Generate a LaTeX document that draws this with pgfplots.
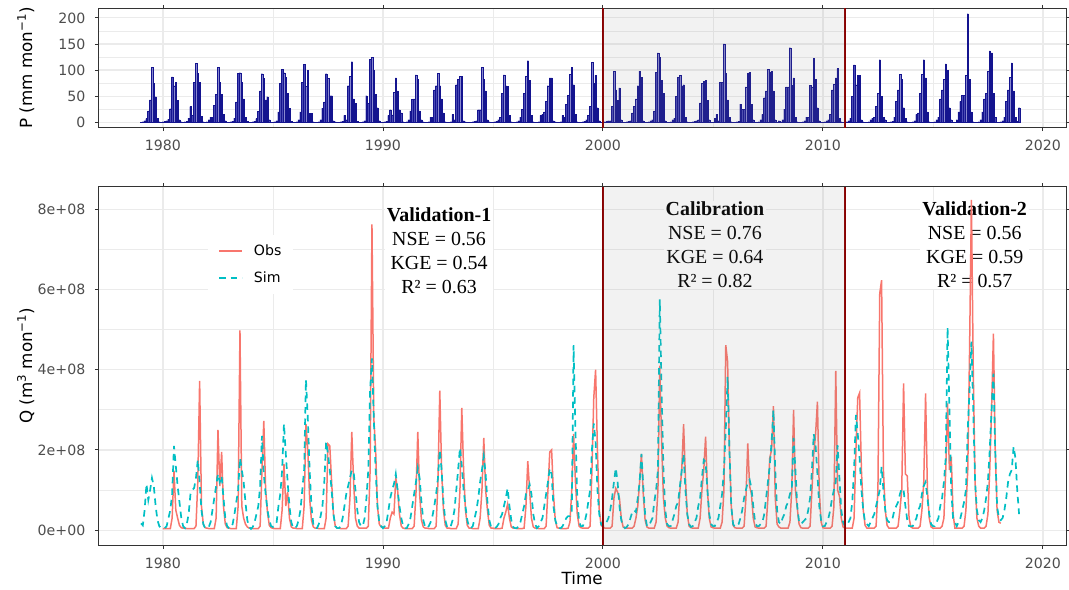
\documentclass[border=0pt]{standalone}
\usepackage{pgfplots}
\pgfplotsset{compat=1.18}
\usepackage{pgfplotstable}
\usepackage{fontspec}
\setmainfont{DejaVu Sans}
\newfontfamily\serif{Liberation Serif}
\definecolor{obs}{HTML}{F8766D}
\definecolor{sim}{HTML}{00BFC4}
\definecolor{pbar}{HTML}{14148F}
\definecolor{pfill}{HTML}{4A4AB5}
\definecolor{vl}{HTML}{8B0000}
\definecolor{gridc}{HTML}{EBEBEB}
\definecolor{tickc}{HTML}{4D4D4D}
\definecolor{frame}{HTML}{333333}

% monthly precipitation (mm), Jan 1979 - Dec 2018, one year per line
\pgfplotstableread[row sep=\\]{
v\\
0.5\\1\\3\\7\\22\\43\\105\\75\\49\\8\\1\\0.5\\
1\\2\\3\\6\\26\\87\\70\\76\\42\\5\\1\\0.5\\
1\\2\\8\\30\\13\\77\\113\\94\\77\\12\\1\\0.5\\
1\\5\\10\\10\\32\\53\\105\\76\\53\\15\\3\\0.5\\
0.5\\1\\2\\8\\39\\94\\95\\76\\45\\10\\2\\0.5\\
0.5\\1\\2\\7\\21\\60\\93\\84\\43\\49\\5\\0.5\\
0.5\\1\\3\\20\\75\\102\\95\\86\\56\\27\\2\\0.5\\
0.5\\1\\5\\20\\76\\111\\69\\100\\17\\17\\1\\0.5\\
0.5\\1\\5\\27\\39\\93\\84\\51\\51\\3\\1\\0.5\\
0.5\\1\\2\\13\\5\\70\\88\\116\\45\\36\\2\\0.5\\
0.5\\1\\3\\51\\36\\121\\124\\100\\54\\28\\3\\0.5\\
0.5\\1\\2\\13\\24\\14\\57\\85\\60\\24\\18\\1\\
0.5\\1\\5\\22\\44\\45\\91\\82\\22\\5\\1\\0.5\\
0.5\\1\\10\\10\\62\\70\\94\\70\\45\\18\\1\\0.5\\
0.5\\1\\15\\5\\72\\82\\88\\88\\3\\1\\0.5\\0.5\\
0.5\\1\\2\\3\\24\\24\\105\\82\\60\\5\\1\\0.5\\
0.5\\1\\2\\5\\10\\56\\91\\70\\69\\13\\1\\0.5\\
0.5\\1\\3\\10\\25\\56\\88\\118\\80\\13\\1\\0.5\\
0.5\\1\\13\\15\\20\\40\\70\\85\\85\\3\\1\\0.5\\
0.5\\1\\13\\10\\35\\52\\92\\105\\72\\15\\1\\0.5\\
0.5\\1\\2\\5\\13\\30\\115\\75\\90\\28\\3\\0.5\\
0.5\\1\\2\\3\\3\\30\\98\\62\\42\\66\\5\\0.5\\
0.5\\1\\2\\3\\18\\30\\45\\70\\98\\86\\3\\0.5\\
0.5\\1\\3\\5\\22\\96\\133\\125\\80\\56\\3\\0.5\\
0.5\\1\\5\\8\\50\\86\\90\\70\\72\\10\\1\\0.5\\
0.5\\1\\2\\3\\5\\37\\75\\79\\80\\42\\5\\0.5\\
0.5\\8\\15\\3\\77\\77\\150\\94\\43\\10\\1\\0.5\\
0.5\\1\\2\\35\\25\\25\\68\\94\\96\\35\\5\\0.5\\
0.5\\1\\5\\15\\47\\60\\102\\96\\98\\60\\5\\0.5\\
3\\1\\5\\25\\68\\68\\143\\71\\85\\10\\1\\0.5\\
0.5\\1\\3\\10\\10\\71\\68\\122\\82\\28\\3\\0.5\\
0.5\\1\\3\\5\\15\\62\\73\\85\\103\\8\\1\\0.5\\
0.5\\1\\3\\8\\50\\110\\72\\90\\90\\5\\1\\0.5\\
0.5\\1\\5\\8\\10\\30\\55\\120\\50\\10\\5\\0.5\\
0.5\\1\\2\\10\\40\\62\\92\\82\\28\\8\\1\\0.5\\
0.5\\1\\3\\15\\18\\56\\92\\120\\85\\20\\1\\0.5\\
0.5\\1\\5\\10\\45\\62\\82\\112\\100\\28\\5\\0.5\\
0.5\\5\\20\\40\\52\\52\\90\\208\\82\\20\\1\\0.5\\
0.5\\1\\5\\20\\45\\56\\98\\137\\133\\56\\10\\0.5\\
0.5\\1\\3\\10\\40\\62\\86\\114\\60\\10\\2\\28\\
}\Pdata

% observed discharge (1e8 m3/month), Jan 1980 - Feb 2018
\pgfplotstableread[row sep=\\]{
v\\
0.04\\0.04\\0.04\\0.04\\0.04\\0.3\\1.48\\0.5\\0.3\\0.12\\0.06\\0.05\\
0.05\\0.04\\0.04\\0.04\\0.04\\0.04\\0.1\\1.2\\3.72\\0.6\\0.15\\0.06\\
0.05\\0.04\\0.04\\0.04\\0.04\\0.3\\2.5\\1.1\\1.95\\0.6\\0.15\\0.06\\
0.05\\0.04\\0.04\\0.04\\0.04\\0.6\\4.98\\0.6\\0.3\\0.15\\0.08\\0.05\\
0.05\\0.04\\0.04\\0.04\\0.04\\0.1\\1.5\\2.72\\1.0\\0.45\\0.12\\0.06\\
0.05\\0.04\\0.04\\0.04\\0.04\\0.5\\1.65\\0.6\\0.95\\0.3\\0.08\\0.05\\
0.05\\0.04\\0.04\\0.04\\0.04\\0.6\\2.65\\2.0\\0.8\\0.25\\0.08\\0.05\\
0.05\\0.04\\0.04\\0.04\\0.04\\0.3\\2.15\\2.1\\1.2\\0.4\\0.1\\0.05\\
0.05\\0.04\\0.04\\0.04\\0.04\\0.1\\0.8\\2.45\\1.2\\0.3\\0.1\\0.05\\
0.05\\0.05\\0.05\\0.05\\0.1\\1.5\\7.62\\2.8\\2.0\\0.6\\0.15\\0.08\\
0.08\\0.05\\0.05\\0.05\\0.3\\0.45\\0.4\\1.3\\1.0\\0.4\\0.1\\0.05\\
0.04\\0.04\\0.04\\0.04\\0.04\\0.1\\0.9\\2.45\\0.9\\0.25\\0.08\\0.05\\
0.05\\0.04\\0.04\\0.04\\0.04\\0.1\\1.2\\3.48\\1.5\\0.5\\0.12\\0.05\\
0.05\\0.04\\0.04\\0.04\\0.04\\0.15\\1.0\\3.05\\1.5\\0.5\\0.12\\0.05\\
0.05\\0.04\\0.04\\0.04\\0.04\\0.3\\1.0\\2.3\\1.0\\0.5\\0.12\\0.05\\
0.05\\0.04\\0.04\\0.04\\0.04\\0.05\\0.3\\0.45\\0.65\\0.3\\0.08\\0.05\\
0.05\\0.04\\0.04\\0.04\\0.04\\0.05\\0.6\\1.72\\1.0\\0.3\\0.08\\0.05\\
0.05\\0.04\\0.04\\0.04\\0.04\\0.1\\1.0\\1.95\\2.0\\0.9\\0.25\\0.06\\
0.05\\0.04\\0.04\\0.04\\0.04\\0.05\\0.2\\1.0\\2.4\\1.2\\0.4\\0.1\\
0.06\\0.05\\0.05\\0.05\\0.05\\0.1\\1.5\\3.3\\4.0\\2.0\\0.5\\0.12\\
0.08\\0.05\\0.05\\0.05\\0.05\\0.1\\0.8\\1.04\\0.95\\0.8\\0.3\\0.08\\
0.06\\0.05\\0.05\\0.05\\0.05\\0.1\\0.3\\0.6\\1.2\\1.9\\0.9\\0.25\\
0.08\\0.05\\0.05\\0.05\\0.05\\0.2\\1.0\\4.1\\2.2\\0.8\\0.3\\0.1\\
0.06\\0.05\\0.05\\0.05\\0.05\\0.2\\1.0\\1.5\\2.64\\1.3\\0.4\\0.1\\
0.06\\0.05\\0.05\\0.05\\0.05\\0.3\\1.0\\1.5\\2.33\\1.0\\0.3\\0.08\\
0.06\\0.05\\0.05\\0.05\\0.05\\0.2\\1.0\\4.61\\4.2\\2.0\\0.6\\0.12\\
0.06\\0.05\\0.05\\0.05\\0.05\\0.1\\0.8\\2.16\\1.1\\0.9\\0.3\\0.08\\
0.06\\0.05\\0.05\\0.05\\0.05\\0.1\\0.8\\1.8\\2.0\\3.09\\0.8\\0.15\\
0.08\\0.05\\0.05\\0.05\\0.05\\0.05\\0.2\\1.0\\3.0\\1.0\\0.55\\0.15\\
0.06\\0.05\\0.05\\0.05\\0.05\\0.1\\1.0\\1.9\\2.4\\3.2\\1.0\\0.2\\
0.06\\0.05\\0.05\\0.05\\0.05\\0.1\\0.6\\3.97\\1.0\\0.85\\0.3\\0.08\\
0.05\\0.05\\0.05\\0.05\\0.05\\0.3\\2.0\\3.3\\3.42\\1.5\\0.5\\0.12\\
0.05\\0.05\\0.05\\0.05\\0.05\\0.1\\1.0\\5.9\\6.23\\1.5\\0.5\\0.12\\
0.05\\0.05\\0.05\\0.05\\0.05\\0.1\\0.5\\1.0\\3.66\\1.4\\1.35\\0.3\\
0.08\\0.05\\0.05\\0.05\\0.05\\0.1\\0.5\\1.2\\3.41\\1.0\\0.3\\0.08\\
0.05\\0.05\\0.05\\0.05\\0.05\\0.1\\0.3\\1.5\\3.16\\1.5\\1.83\\0.4\\
0.05\\0.05\\0.05\\0.05\\0.05\\0.1\\0.5\\1.5\\4.5\\8.23\\4.0\\1.2\\
0.3\\0.1\\0.05\\0.05\\0.05\\0.1\\0.4\\1.5\\3.0\\4.9\\2.0\\0.5\\
0.2\\0.17\\
}\Obsdata

% simulated discharge (1e8 m3/month), Jan 1979 - Dec 2018
\pgfplotstableread[row sep=\\]{
v\\
0.17\\0.12\\0.5\\1.15\\0.75\\1.0\\1.3\\1.1\\0.6\\0.25\\0.1\\0.05\\
0.05\\0.05\\0.1\\0.3\\0.5\\0.9\\2.1\\1.6\\1.1\\0.7\\0.3\\0.1\\
0.05\\0.15\\0.4\\0.9\\1.0\\1.05\\1.3\\1.75\\1.2\\0.5\\0.15\\0.05\\
0.05\\0.08\\0.2\\0.5\\0.8\\1.1\\1.4\\1.2\\1.35\\0.8\\0.3\\0.1\\
0.05\\0.05\\0.15\\0.4\\0.7\\1.0\\1.8\\1.5\\1.2\\0.7\\0.25\\0.08\\
0.03\\0.08\\0.2\\0.4\\0.6\\1.1\\2.35\\1.4\\0.9\\0.5\\0.25\\0.1\\
0.08\\0.1\\0.2\\0.6\\0.9\\1.5\\2.65\\1.9\\1.2\\0.6\\0.2\\0.05\\
0.05\\0.1\\0.25\\0.5\\1.0\\1.5\\3.75\\2.8\\1.5\\0.6\\0.15\\0.05\\
0.05\\0.15\\0.35\\0.6\\1.2\\2.2\\1.9\\1.5\\1.0\\0.4\\0.1\\0.05\\
0.05\\0.1\\0.3\\0.6\\0.9\\1.1\\1.3\\1.5\\1.45\\1.0\\0.5\\0.2\\
0.1\\0.1\\0.3\\0.8\\1.5\\3.5\\4.28\\2.8\\1.5\\0.6\\0.2\\0.1\\
0.05\\0.1\\0.2\\0.5\\0.8\\1.0\\1.15\\1.4\\1.0\\0.6\\0.3\\0.1\\
0.05\\0.05\\0.15\\0.3\\0.6\\0.9\\1.2\\1.55\\1.3\\0.7\\0.25\\0.08\\
0.05\\0.1\\0.2\\0.35\\0.6\\0.9\\1.3\\2.0\\1.5\\0.7\\0.25\\0.08\\
0.05\\0.1\\0.25\\0.5\\1.0\\1.5\\2.05\\1.6\\1.0\\0.6\\0.25\\0.08\\
0.05\\0.1\\0.3\\0.5\\0.8\\1.2\\1.5\\1.85\\1.4\\0.7\\0.25\\0.08\\
0.05\\0.05\\0.08\\0.15\\0.3\\0.4\\0.6\\0.8\\1.04\\0.6\\0.25\\0.08\\
0.05\\0.05\\0.1\\0.2\\0.4\\0.6\\0.9\\1.0\\1.14\\0.9\\0.4\\0.15\\
0.05\\0.1\\0.2\\0.3\\0.6\\0.9\\1.2\\1.54\\1.4\\0.6\\0.25\\0.1\\
0.05\\0.05\\0.1\\0.2\\0.3\\0.35\\0.35\\0.4\\4.61\\2.5\\0.8\\0.2\\
0.1\\0.1\\0.2\\0.4\\0.7\\1.0\\2.0\\2.66\\2.2\\1.0\\0.4\\0.15\\
0.1\\0.1\\0.2\\0.3\\0.5\\0.8\\1.2\\1.55\\1.2\\0.6\\0.25\\0.1\\
0.05\\0.08\\0.15\\0.3\\0.45\\0.5\\0.45\\0.8\\1.2\\1.9\\1.1\\0.4\\
0.1\\0.1\\0.2\\0.3\\0.7\\1.0\\1.5\\5.75\\3.5\\1.5\\0.5\\0.15\\
0.1\\0.1\\0.25\\0.4\\0.6\\0.7\\1.1\\1.5\\1.9\\1.0\\0.4\\0.15\\
0.08\\0.1\\0.2\\0.3\\0.6\\0.8\\1.3\\1.75\\1.7\\1.0\\0.4\\0.15\\
0.1\\0.1\\0.2\\0.3\\0.6\\0.9\\1.5\\2.5\\3.82\\2.0\\0.6\\0.15\\
0.08\\0.1\\0.15\\0.3\\0.5\\0.8\\1.0\\1.2\\1.26\\1.05\\0.6\\0.2\\
0.1\\0.1\\0.15\\0.2\\0.4\\0.8\\1.2\\1.6\\2.2\\3.0\\1.5\\0.5\\
0.2\\0.15\\0.3\\0.4\\0.6\\0.7\\0.9\\1.0\\2.3\\1.5\\0.6\\0.2\\
0.15\\0.2\\0.25\\0.3\\0.5\\0.8\\1.5\\2.4\\2.1\\1.4\\0.6\\0.25\\
0.1\\0.1\\0.2\\0.3\\0.5\\0.8\\1.0\\1.2\\2.12\\1.3\\0.5\\0.2\\
0.1\\0.1\\0.2\\0.3\\0.7\\1.5\\2.87\\2.4\\1.8\\1.0\\0.5\\0.2\\
0.15\\0.1\\0.2\\0.3\\0.4\\0.6\\0.8\\1.0\\1.58\\1.0\\0.5\\0.25\\
0.2\\0.2\\0.3\\0.5\\0.6\\0.7\\0.9\\1.04\\1.0\\0.6\\0.25\\0.1\\
0.1\\0.1\\0.2\\0.3\\0.5\\0.6\\0.9\\1.1\\1.2\\0.8\\0.4\\0.15\\
0.1\\0.1\\0.2\\0.3\\0.6\\0.8\\1.2\\1.8\\5.05\\3.0\\1.0\\0.3\\
0.2\\0.1\\0.2\\0.3\\0.5\\0.7\\1.0\\2.5\\3.5\\4.7\\3.0\\1.2\\
0.5\\0.25\\0.2\\0.3\\0.5\\0.8\\1.2\\2.0\\3.0\\3.9\\2.0\\0.6\\
0.3\\0.25\\0.3\\0.5\\0.8\\1.2\\1.4\\1.5\\2.08\\1.8\\1.0\\0.4\\
}\Simdata

\pgfplotsset{
  ggstyle/.style={
    scale only axis, xmin=1977.06, xmax=2021.05,
    axis line style={frame, line width=0.9bp},
    tick align=outside, major tick length=3.5bp, minor tick length=0pt,
    tick style={frame, line width=0.9bp},
    xtick={1980,1990,2000,2010,2020},
    xticklabels={1980,1990,2000,2010,2020},
    minor xtick={1985,1995,2005,2015},
    grid=both,
    major grid style={gridc, line width=1.2bp},
    minor grid style={gridc, line width=0.6bp},
    ticklabel style={font=\fontsize{14.2}{17}\selectfont, text=tickc, inner sep=0pt},
    xticklabel style={anchor=north, yshift=-9bp},
    yticklabel style={anchor=east, xshift=-9.3bp},
    label style={font=\fontsize{16.8}{20}\selectfont},
    ylabel style={at={(axis description cs:-0.0685,0.5)}, anchor=base},
  }
}

\begin{document}
\begin{tikzpicture}
\path[use as bounding box] (0,0) rectangle (1069bp,590bp);

% ---------- top panel: precipitation ----------
\begin{axis}[ggstyle,
  at={(98.3bp,462.3bp)}, anchor=south west,
  width=967.7bp, height=119.4bp,
  ymin=-10.4, ymax=218.4,
  ytick={0,50,100,150,200}, yticklabels={0,50,100,150,200},
  minor ytick={25,75,125,175},
  ylabel={P (mm mon\textsuperscript{−1})},
]
\addplot[ybar, bar width=0.066, bar shift=0pt, fill=pfill, draw=pbar, line width=0.25bp]
  table[x expr=1979+\coordindex/12, y=v] {\Pdata};
\draw[vl, line width=1.6bp] (axis cs:2000,-10.4) -- (axis cs:2000,218.4);
\draw[vl, line width=1.6bp] (axis cs:2011,-10.4) -- (axis cs:2011,218.4);
\fill[black!50, opacity=0.1] (axis cs:2000,-10.4) rectangle (axis cs:2011,218.4);
\end{axis}

% ---------- bottom panel: discharge ----------
\begin{axis}[ggstyle,
  at={(98.3bp,45bp)}, anchor=south west,
  width=967.7bp, height=358.3bp,
  ymin=-0.37, ymax=8.56,
  ytick={0,2,4,6,8}, yticklabels={0e+00,2e+08,4e+08,6e+08,8e+08},
  minor ytick={1,3,5,7},
  ylabel={Q (m\textsuperscript{3} mon\textsuperscript{−1})},
  xlabel={Time},
  xlabel style={at={(axis description cs:0.5,-0.109)}, anchor=base},
  legend image code/.code={\draw[#1] (0bp,0bp) -- (23bp,0bp);},
  legend style={at={(axis description cs:0.1134,0.866)}, anchor=north west,
    draw=none, fill=white, font=\fontsize{14.2}{17}\selectfont,
    row sep=11bp, column sep=9bp, inner xsep=10bp, inner ysep=8bp,
    nodes={inner sep=2bp}},
  legend cell align=left,
]
\node[font={\serif\fontsize{20}{24}\selectfont}, align=center, fill=white, inner xsep=2bp, inner ysep=1bp, anchor=north]
  at (axis cs:1992.55,8.06) {\textbf{Validation-1}\\NSE = 0.56\\KGE = 0.54\\R² = 0.63};
\node[font={\serif\fontsize{20}{24}\selectfont}, align=center, fill=white, inner xsep=2bp, inner ysep=1bp, anchor=north]
  at (axis cs:2005.09,8.21) {\textbf{Calibration}\\NSE = 0.76\\KGE = 0.64\\R² = 0.82};
\node[font={\serif\fontsize{20}{24}\selectfont}, align=center, fill=white, inner xsep=2bp, inner ysep=1bp, anchor=north]
  at (axis cs:2016.9,8.21) {\textbf{Validation-2}\\NSE = 0.56\\KGE = 0.59\\R² = 0.57};
\addplot[obs, line width=1.5bp, no markers] table[x expr=1980+\coordindex/12, y=v] {\Obsdata};
\addlegendentry{Obs}
\addplot[sim, line width=1.7bp, dash pattern=on 6.5bp off 5bp, no markers] table[x expr=1979+\coordindex/12, y=v] {\Simdata};
\addlegendentry{Sim}
\draw[vl, line width=1.6bp] (axis cs:2000,-0.37) -- (axis cs:2000,8.56);
\draw[vl, line width=1.6bp] (axis cs:2011,-0.37) -- (axis cs:2011,8.56);
\fill[black!50, opacity=0.1] (axis cs:2000,-0.37) rectangle (axis cs:2011,8.56);
\end{axis}
\end{tikzpicture}
\end{document}
